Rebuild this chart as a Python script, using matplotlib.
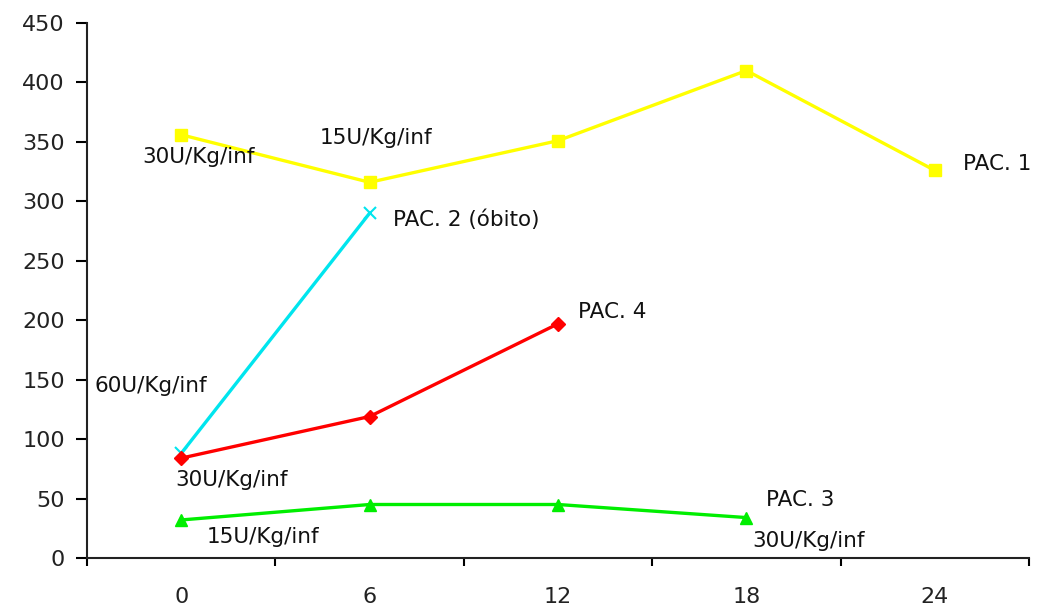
import matplotlib
matplotlib.use("Agg")
import matplotlib.pyplot as plt
import numpy as np

plt.rcParams['font.family'] = ['DejaVu Sans']

categories = ["0", "6", "12", "18", "24"]
pac1 = [356, 316, 351, 410, 326]
pac2 = [88, 290]
pac4 = [84, 119, 197]
pac3 = [32, 45, 45, 34]
yticks = [0, 50, 100, 150, 200, 250, 300, 350, 400, 450]

W, H = 1039, 609
fig = plt.figure(figsize=(W / 100, H / 100), dpi=100)
ax = fig.add_axes([87 / W, 1 - 558 / H, (1029 - 87) / W, (558 - 23) / H])

x = np.arange(len(categories))
ax.plot(x[:len(pac1)], pac1, color="#FFFF00", lw=2.4, marker="s", ms=8, mec="#FFFF00", zorder=3)
ax.plot(x[:len(pac2)], pac2, color="#00E5EE", lw=2.4, marker="x", ms=8, mew=1.5, zorder=3)
ax.plot(x[:len(pac4)], pac4, color="#FF0000", lw=2.4, marker="D", ms=7, zorder=4)
ax.plot(x[:len(pac3)], pac3, color="#00EE00", lw=2.4, marker="^", ms=9, zorder=3)

ax.set_xlim(-0.5, len(categories) - 0.5)
ax.set_ylim(0, 450)
ax.set_yticks(yticks)
ax.set_yticklabels([str(v) for v in yticks], fontsize=16, color="#222222")
ax.set_xticks(x)
ax.set_xticklabels(categories, fontsize=16, color="#222222")
ax.set_xticks(np.arange(-0.5, len(categories)), minor=True)
ax.tick_params(axis="x", which="major", length=0, pad=21)
ax.tick_params(axis="x", which="minor", length=6, width=1.5, direction="out")
ax.tick_params(axis="y", length=8, width=1.5, direction="out", pad=8)
for s in ["top", "right"]:
    ax.spines[s].set_visible(False)
for s in ["left", "bottom"]:
    ax.spines[s].set_linewidth(1.5)
    ax.spines[s].set_color("#222222")

labels = [
    ("30U/Kg/inf", 142, 157),
    ("15U/Kg/inf", 320, 138),
    ("PAC. 2 (óbito)", 393, 220),
    ("PAC. 1", 963, 164),
    ("PAC. 4", 578, 312),
    ("60U/Kg/inf", 95, 386),
    ("30U/Kg/inf", 175, 480),
    ("15U/Kg/inf", 207, 537),
    ("PAC. 3", 766, 500),
    ("30U/Kg/inf", 752, 541),
]
for t, px, py in labels:
    fig.text(px / W, 1 - py / H, t, ha="left", va="center", fontsize=15.5, color="#111111")

fig.savefig("out.png", dpi=100)
